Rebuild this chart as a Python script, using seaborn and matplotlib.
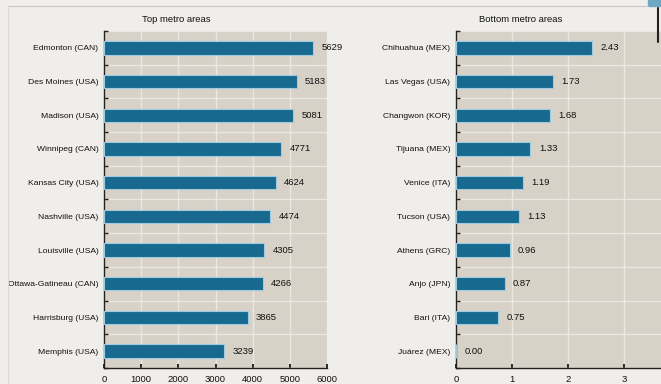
import numpy as np
import pandas as pd
import matplotlib.pyplot as plt
import seaborn as sns
from matplotlib.lines import Line2D
from matplotlib.patches import Rectangle

# data
top_cities = ["Edmonton (CAN)", "Des Moines (USA)", "Madison (USA)", "Winnipeg (CAN)",
              "Kansas City (USA)", "Nashville (USA)", "Louisville (USA)",
              "Ottawa-Gatineau (CAN)", "Harrisburg (USA)", "Memphis (USA)"]
top_values = [5629, 5183, 5081, 4771, 4624, 4474, 4305, 4266, 3865, 3239]

bottom_cities = ["Chihuahua (MEX)", "Las Vegas (USA)", "Changwon (KOR)", "Tijuana (MEX)",
                 "Venice (ITA)", "Tucson (USA)", "Athens (GRC)", "Anjo (JPN)",
                 "Bari (ITA)", "Juárez (MEX)"]
bottom_values = [2.43, 1.73, 1.68, 1.33, 1.19, 1.13, 0.96, 0.87, 0.75, 0.00]

top_ticks = [0, 1000, 2000, 3000, 4000, 5000, 6000]
top_tick_labels = ["0", "1000", "2000", "3000", "4000", "5000", "6000"]
# the last tick of the right panel falls outside the cropped screenshot
bottom_ticks = [0, 1, 2, 3, 4]
bottom_tick_labels = ["0", "1", "2", "3", ""]

BAR = "#17698f"
EDGE = "#9fcbe0"
PANEL = "#d7d1c7"
PAGE = "#f0eeeb"
GRID = "#ebe7e1"

sns.set_theme(style="white")
plt.rcParams["font.family"] = ["Liberation Sans", "DejaVu Sans"]
plt.rcParams["axes.unicode_minus"] = False

fig = plt.figure(figsize=(6.61, 3.84), dpi=100)
fig.patch.set_facecolor(PAGE)

W, H = 661, 384


def draw_panel(rect, cities, values, ticks, tick_labels, fmt):
    ax = fig.add_axes(rect)
    df = pd.DataFrame({"city": cities, "value": values})
    sns.barplot(data=df, x="value", y="city", orient="h", color=BAR, width=0.4,
                saturation=1, edgecolor=EDGE, linewidth=0.8, ax=ax, zorder=3)
    ax.set_facecolor(PANEL)
    ax.set_xlim(ticks[0], ticks[-1])
    ax.set_ylim(len(cities) - 0.5, -0.5)
    ax.set_xticks(ticks)
    ax.set_xticklabels(tick_labels)
    ax.set_yticks(np.arange(len(cities) + 1) - 0.5, minor=True)
    ax.set_xlabel("")
    ax.set_ylabel("")
    ax.grid(True, axis="x", which="major", color=GRID, linewidth=1.0, zorder=0)
    ax.grid(True, axis="y", which="minor", color=GRID, linewidth=1.0, zorder=0)
    ax.set_axisbelow(True)
    for s in ["top", "right"]:
        ax.spines[s].set_visible(False)
    for s in ["left", "bottom"]:
        ax.spines[s].set_color("#222222")
        ax.spines[s].set_linewidth(1.0)
    ax.tick_params(axis="y", which="major", length=0, labelsize=6.1, pad=4, colors="#111111")
    ax.tick_params(axis="y", which="minor", length=3, direction="in", color="#222222", left=True)
    ax.tick_params(axis="x", which="major", length=3, direction="in", labelsize=6.8, pad=5,
                   colors="#111111", bottom=True)
    for i, v in enumerate(values):
        ax.annotate(fmt(v), xy=(v, i), xytext=(6, 0), textcoords="offset points",
                    ha="left", va="center", fontsize=6.8, color="#111111",
                    annotation_clip=False)
    return ax


ax1 = draw_panel([104 / W, 16 / H, 223 / W, 337 / H], top_cities, top_values,
                 top_ticks, top_tick_labels, lambda v: f"{v:d}")
ax2 = draw_panel([456 / W, 16 / H, 224 / W, 337 / H], bottom_cities, bottom_values,
                 bottom_ticks, bottom_tick_labels, lambda v: f"{v:.2f}")

fig.text(176 / W, 1 - 20 / H, "Top metro areas", ha="center", va="center",
         fontsize=6.8, color="#111111")
fig.text(521 / W, 1 - 20 / H, "Bottom metro areas", ha="center", va="center",
         fontsize=6.8, color="#111111")

# page frame from the screenshot
fig.add_artist(Line2D([8 / W, 648 / W], [1 - 6 / H, 1 - 6 / H], color="#c9c7c4", lw=0.8))
fig.add_artist(Line2D([8 / W, 8 / W], [0, 1 - 6 / H], color="#dcdad7", lw=0.8))
fig.add_artist(Rectangle((648 / W, 1 - 6 / H), 13 / W, 6 / H, color="#6fa6c4",
                         transform=fig.transFigure))
fig.add_artist(Line2D([658 / W, 658 / W], [1 - 42 / H, 1 - 8 / H], color="#222222", lw=1.5))

fig.savefig("out.png", dpi=100, facecolor=fig.get_facecolor())
